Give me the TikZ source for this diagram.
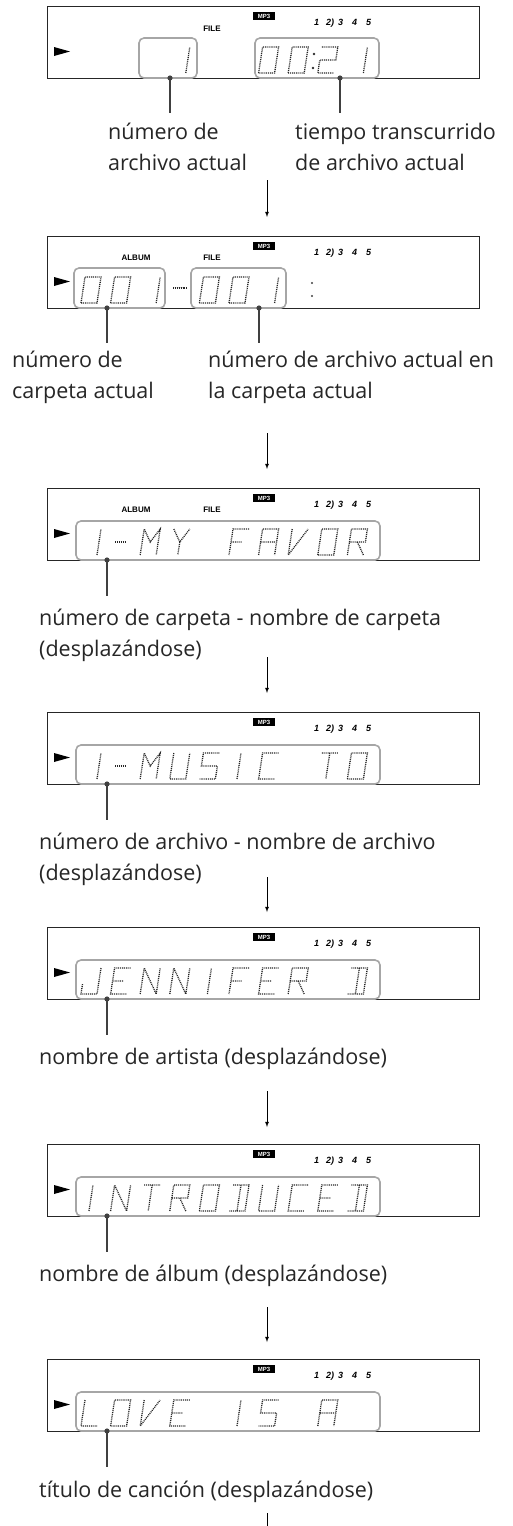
\documentclass[tikz,border=0pt]{standalone}
\usepackage{fontspec}
\setmainfont{Open Sans}
\setsansfont{Liberation Sans}

% segment paths of one LCD cell, unit square, v upwards
\newcommand\chZero{(0,0) -- (1,0) -- (1,1) -- (0,1) -- cycle}
\newcommand\chOne{(1,0) -- (1,1)}
\newcommand\chTwo{(0,1) -- (1,1) -- (1,.5) -- (0,.5) -- (0,0) -- (1,0)}
\newcommand\chDash{(.15,.5) -- (.85,.5)}
\newcommand\chA{(0,0) -- (0,1) -- (1,1) -- (1,0) (0,.5) -- (1,.5)}
\newcommand\chC{(1,1) -- (0,1) -- (0,0) -- (1,0)}
\newcommand\chD{(0,1) -- (1,1) -- (1,0) -- (0,0) (.5,1) -- (.5,0)}
\newcommand\chE{(1,1) -- (0,1) -- (0,0) -- (1,0) (0,.5) -- (.7,.5)}
\newcommand\chF{(1,1) -- (0,1) -- (0,0) (0,.5) -- (.7,.5)}
\newcommand\chI{(.5,0) -- (.5,1)}
\newcommand\chJ{(1,1) -- (1,0) -- (0,0) -- (0,.4)}
\newcommand\chL{(0,1) -- (0,0) -- (1,0)}
\newcommand\chM{(0,0) -- (0,1) -- (.5,.5) -- (1,1) -- (1,0)}
\newcommand\chN{(0,0) -- (0,1) -- (1,0) -- (1,1)}
\newcommand\chR{(0,0) -- (0,1) -- (1,1) -- (1,.5) -- (0,.5) (.5,.5) -- (1,0)}
\newcommand\chS{(1,1) -- (0,1) -- (0,.5) -- (1,.5) -- (1,0) -- (0,0)}
\newcommand\chT{(0,1) -- (1,1) (.5,1) -- (.5,0)}
\newcommand\chU{(0,1) -- (0,0) -- (1,0) -- (1,1)}
\newcommand\chV{(0,1) -- (0,0) -- (.5,.5) -- (1,1)}
\newcommand\chY{(0,1) -- (.5,.5) -- (1,1) (.5,.5) -- (.5,0)}

\tikzset{
  lcdframe/.style={draw=black!85,line width=1pt},
  win/.style={draw=black!35,line width=1.6pt,rounded corners=5pt},
  lcdseg/.style={draw=black!85,line width=1.3pt,dash pattern=on 1pt off 0.9pt},
  lead/.style={draw=black!75,line width=1.6pt},
  tag/.style={font=\fontsize{21.5}{31}\selectfont,text=black!85,align=left,inner sep=0pt,anchor=base west},
  flow/.style={->,>=latex,line width=0.8pt},
  ind/.style={font=\sffamily\bfseries\fontsize{8}{8}\selectfont,inner sep=0pt},
  mpbadge/.style={fill=black,text=white,font=\sffamily\bfseries\fontsize{6}{6}\selectfont,inner sep=0pt,minimum width=22pt,minimum height=7.5pt},
  disc/.style={font=\sffamily\bfseries\itshape\fontsize{9}{9}\selectfont,inner sep=0pt,anchor=west}
}

% one cell: #1 cell index, #2 panel top, #3 segment path
\newcommand\lcd[3]{\draw[lcdseg,shift={(81+29.6*#1,#2+67)},x=16pt,y={(4pt,26pt)}] #3;}

% frame, MP3 badge, disc numbers, play mark: #1 name, #2 panel top
\newcommand\lcdpanel[2]{%
  \draw[lcdframe] (47,#2) rectangle (479,#2+72);
  \node[mpbadge] (#1mp) at (264,#2+10) {MP3};
  \node[disc] (#1disc) at (314,#2+17) {1\hspace{7pt}2)\hspace{4pt}3\hspace{9pt}4\hspace{9pt}5};
  \fill[black] (54,#2+41) -- (70,#2+45.5) -- (54,#2+50) -- cycle;
}

\begin{document}
\begin{tikzpicture}[x=1pt,y=-1pt]
\useasboundingbox (0,0) rectangle (512,1526);

% panel 1: file number and time
\lcdpanel{p1}{6}
\node[ind] (file1) at (212,29) {FILE};
\draw[win] (139,38) rectangle (197,78);
\draw[win] (255,38) rectangle (379,78);
\foreach \i/\c in {3/\chOne,6/\chZero,7/\chZero,8/\chTwo,9/\chOne}
  \lcd{\i}{6}{\c}
\fill[black!75] (314,54) circle (1.2) (313,68) circle (1.2);
\coordinate (d1a) at (170,78);
\coordinate (d1b) at (340,78);
\fill[black!75] (d1a) circle (2.6) (d1b) circle (2.6);
\draw[lead] (d1a) -- ++(0,35);
\draw[lead] (d1b) -- ++(0,35);
\node[tag] (lab1a) at (108,170) {número de\\archivo actual};
\node[tag] (lab1b) at (295,170) {tiempo transcurrido\\de archivo actual};
\coordinate (a1) at (267,180);
\coordinate (b1) at (267,217);
\draw[flow] (a1) -- (b1);

% panel 2: folder number and file number
\lcdpanel{p2}{236}
\node[ind] (album2) at (136,258) {ALBUM};
\node[ind] (file2) at (212,258) {FILE};
\draw[win] (74,268) rectangle (165,308);
\draw[win] (191,268) rectangle (286,308);
\foreach \i/\c in {0/\chZero,1/\chZero,2/\chOne,4/\chZero,5/\chZero,6/\chOne}
  \lcd{\i}{236}{\c}
\draw[lcdseg] (173,288) -- (187,288);
\fill[black!75] (312,283) circle (1.2) (312,296) circle (1.2);
\coordinate (d2a) at (107,308);
\coordinate (d2b) at (259,308);
\fill[black!75] (d2a) circle (2.6) (d2b) circle (2.6);
\draw[lead] (d2a) -- ++(0,35);
\draw[lead] (d2b) -- ++(0,35);
\node[tag] (lab2a) at (12,398) {número de\\carpeta actual};
\node[tag] (lab2b) at (208,398) {número de archivo actual en\\la carpeta actual};
\coordinate (a2) at (267,433);
\coordinate (b2) at (267,469);
\draw[flow] (a2) -- (b2);

% panel 3: folder name
\lcdpanel{p3}{488}
\node[ind] (album3) at (136,510) {ALBUM};
\node[ind] (file3) at (212,510) {FILE};
\draw[win] (76,521) rectangle (380,560);
\foreach \i/\c in {0/\chOne,1/\chDash,2/\chM,3/\chY,5/\chF,6/\chA,7/\chV,8/\chZero,9/\chR}
  \lcd{\i}{488}{\c}
\coordinate (d3) at (107,560);
\fill[black!75] (d3) circle (2.6);
\draw[lead] (d3) -- ++(0,36);
\node[tag] (lab3) at (39,656) {número de carpeta - nombre de carpeta\\(desplazándose)};
\coordinate (a3) at (267,657);
\coordinate (b3) at (267,693);
\draw[flow] (a3) -- (b3);

% panel 4: file name
\lcdpanel{p4}{712}
\draw[win] (76,745) rectangle (380,784);
\foreach \i/\c in {0/\chOne,1/\chDash,2/\chM,3/\chU,4/\chS,5/\chI,6/\chC,8/\chT,9/\chZero}
  \lcd{\i}{712}{\c}
\coordinate (d4) at (107,784);
\fill[black!75] (d4) circle (2.6);
\draw[lead] (d4) -- ++(0,36);
\node[tag] (lab4) at (39,880) {número de archivo - nombre de archivo\\(desplazándose)};
\coordinate (a4) at (267,877);
\coordinate (b4) at (267,912);
\draw[flow] (a4) -- (b4);

% panel 5: artist
\lcdpanel{p5}{927}
\draw[win] (76,960) rectangle (380,999);
\foreach \i/\c in {0/\chJ,1/\chE,2/\chN,3/\chN,4/\chI,5/\chF,6/\chE,7/\chR,9/\chD}
  \lcd{\i}{927}{\c}
\coordinate (d5) at (107,999);
\fill[black!75] (d5) circle (2.6);
\draw[lead] (d5) -- ++(0,36);
\node[tag] (lab5) at (39,1064) {nombre de artista (desplazándose)};
\coordinate (a5) at (267,1091);
\coordinate (b5) at (267,1127);
\draw[flow] (a5) -- (b5);

% panel 6: album
\lcdpanel{p6}{1144}
\draw[win] (76,1177) rectangle (380,1216);
\foreach \i/\c in {0/\chI,1/\chN,2/\chT,3/\chR,4/\chZero,5/\chD,6/\chU,7/\chC,8/\chE,9/\chD}
  \lcd{\i}{1144}{\c}
\coordinate (d6) at (107,1216);
\fill[black!75] (d6) circle (2.6);
\draw[lead] (d6) -- ++(0,36);
\node[tag] (lab6) at (39,1281) {nombre de álbum (desplazándose)};
\coordinate (a6) at (267,1307);
\coordinate (b6) at (267,1342);
\draw[flow] (a6) -- (b6);

% panel 7: song title
\lcdpanel{p7}{1359}
\draw[win] (76,1392) rectangle (380,1431);
\foreach \i/\c in {0/\chL,1/\chZero,2/\chV,3/\chE,5/\chI,6/\chS,8/\chA}
  \lcd{\i}{1359}{\c}
\coordinate (d7) at (107,1431);
\fill[black!75] (d7) circle (2.6);
\draw[lead] (d7) -- ++(0,36);
\node[tag] (lab7) at (39,1497) {título de canción (desplazándose)};
\coordinate (a7) at (267,1513);
\coordinate (b7) at (267,1526);
\draw[line width=0.8pt] (a7) -- (b7);
\end{tikzpicture}
\end{document}
